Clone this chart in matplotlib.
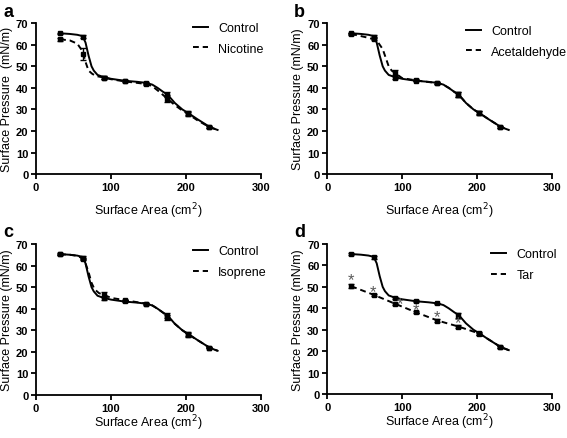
import matplotlib.pyplot as plt

plt.rcParams["font.family"] = ["Liberation Sans", "DejaVu Sans"]

# control isotherm (same in every panel)
ctrl_x = [32, 45, 55, 62, 66, 70, 74, 77, 82, 90, 100, 118, 135, 147, 155, 162, 170, 175,
          185, 195, 203, 215, 231, 238, 242]
ctrl_y = [65.3, 65.0, 64.6, 64.0, 61.0, 55.0, 50.0, 48.0, 46.0, 45.0, 44.2, 43.3, 42.8,
          42.3, 41.5, 40.0, 38.0, 37.0, 33.0, 30.0, 28.3, 25.5, 22.0, 21.0, 20.5]

# measured points (markers with error bars)
pt_x = [32, 62, 90, 118, 147, 175, 203, 231]
ctrl_pt = [65.3, 63.7, 44.8, 43.4, 42.3, 36.8, 28.3, 22.0]
ctrl_err = [0.3, 0.6, 0.6, 0.4, 0.4, 1.2, 0.8, 0.4]

# nicotine
nic_x = [32, 45, 55, 62, 66, 70, 75, 80, 90, 100, 118, 135, 147, 155, 165, 175, 185, 195,
         203, 215, 231, 238, 242]
nic_y = [62.5, 62.0, 60.5, 57.0, 52.0, 48.0, 46.5, 45.5, 44.8, 44.0, 43.0, 42.3, 41.8,
         40.8, 38.0, 35.0, 32.0, 29.5, 27.8, 25.0, 21.8, 21.0, 20.5]
nic_pt = [62.5, 55.5, 44.8, 43.0, 41.8, 35.0, 27.8, 21.8]
nic_err = [0.8, 2.8, 0.5, 0.4, 0.6, 1.5, 0.8, 0.4]

# acetaldehyde
ace_x = [32, 45, 55, 62, 68, 74, 78, 82, 86, 90, 100, 118, 135, 147, 155, 162, 170, 175,
         185, 195, 203, 215, 231, 238, 242]
ace_y = [65.0, 64.0, 63.2, 62.5, 61.0, 58.0, 54.0, 50.0, 48.0, 47.0, 44.5, 43.5, 42.7,
         42.2, 41.4, 40.0, 38.0, 37.0, 33.0, 30.0, 28.3, 25.5, 22.0, 21.0, 20.5]
ace_pt = [65.0, 62.8, 47.0, 43.5, 42.2, 37.0, 28.5, 22.0]
ace_err = [0.3, 0.6, 1.2, 0.4, 0.4, 1.2, 0.8, 0.4]

# isoprene
iso_x = [32, 45, 55, 62, 66, 70, 74, 78, 84, 90, 100, 118, 135, 147, 155, 162, 170, 175,
         185, 195, 203, 215, 231, 238, 242]
iso_y = [65.2, 65.0, 64.5, 63.3, 61.0, 57.0, 52.0, 49.0, 47.2, 46.5, 45.0, 44.0, 43.0,
         42.4, 41.5, 40.0, 38.0, 36.5, 33.0, 30.0, 28.0, 25.5, 22.0, 21.0, 20.5]
iso_pt = [65.2, 63.0, 46.5, 43.8, 42.4, 36.0, 28.0, 22.0]
iso_err = [0.3, 0.6, 1.2, 0.4, 0.4, 1.2, 0.9, 0.4]

# tar
tar_x = [32, 62, 90, 118, 147, 175, 203, 231, 242]
tar_y = [50.3, 46.3, 42.2, 38.2, 34.3, 31.5, 28.2, 22.0, 20.5]
tar_pt = [50.3, 46.3, 42.2, 38.2, 34.3, 31.5, 28.2, 22.0]
tar_err = [1.0, 0.5, 0.5, 0.4, 0.6, 0.8, 0.5, 0.4]

# significance stars
star_x = [32, 61, 97, 119, 146, 174]
star_y = [53.4, 48.0, 42.4, 39.4, 36.3, 33.2]

# letter, treatment, curve x, curve y, points, errors, axes rect, legend anchor, label pos
panels = [
    ("a", "Nicotine", nic_x, nic_y, nic_pt, nic_err,
     [0.0635, 0.601, 0.397, 0.344], (0.698, 1.007), (3, 17)),
    ("b", "Acetaldehyde", ace_x, ace_y, ace_pt, ace_err,
     [0.577, 0.601, 0.397, 0.344], (0.618, 0.987), (294, 17)),
    ("c", "Isoprene", iso_x, iso_y, iso_pt, iso_err,
     [0.0635, 0.098, 0.397, 0.344], (0.698, 0.99), (3, 237)),
    ("d", "Tar", tar_x, tar_y, tar_pt, tar_err,
     [0.577, 0.100, 0.397, 0.342], (0.729, 0.97), (294, 237)),
]

fig = plt.figure(figsize=(5.67, 4.39), dpi=100)

for letter, name, tx, ty, tpt, terr, rect, anchor, lpos in panels:
    ax = fig.add_axes(rect)
    ax.plot(ctrl_x, ctrl_y, color="black", lw=1.4, label="Control")
    ax.plot(tx, ty, color="black", lw=1.4, ls=(0, (3, 2)), label=name)
    ax.errorbar(pt_x, ctrl_pt, yerr=ctrl_err, fmt="s", color="black", ms=3,
                capsize=2.5, elinewidth=1, capthick=1)
    ax.errorbar(pt_x, tpt, yerr=terr, fmt="s", color="black", ms=3,
                capsize=2.5, elinewidth=1, capthick=1)
    if letter == "d":
        for sx, sy in zip(star_x, star_y):
            ax.text(sx, sy, "*", ha="center", va="center", fontsize=12,
                    color="#5a5a5a", zorder=5)

    ax.set_xlim(0, 300)
    ax.set_ylim(0, 70)
    ax.set_xticks([0, 100, 200, 300])
    ax.set_yticks(range(0, 71, 10))
    for s in ["top", "right"]:
        ax.spines[s].set_visible(False)
    for s in ["left", "bottom"]:
        ax.spines[s].set_linewidth(1.3)
    ax.tick_params(width=1.3, length=3.5, labelsize=8, pad=2)
    for lab in ax.get_xticklabels() + ax.get_yticklabels():
        lab.set_fontweight("bold")
    pad = 6 if letter in "ab" else 0
    ax.set_xlabel("Surface Area (cm$^2$)", fontsize=9, labelpad=pad)
    ylab = "Surface Pressure  (mN/m)" if letter == "a" else "Surface Pressure (mN/m)"
    ax.set_ylabel(ylab, fontsize=9, labelpad=2)
    ax.legend(loc="upper left", frameon=False, fontsize=9, handlelength=1.2,
              handletextpad=0.8, borderpad=0, borderaxespad=0,
              bbox_to_anchor=anchor, labelspacing=0.7)
    fig.text(lpos[0] / 567, 1 - lpos[1] / 439, letter, fontsize=13,
             fontweight="bold", va="baseline", ha="left")

fig.savefig("out.png", dpi=100)
